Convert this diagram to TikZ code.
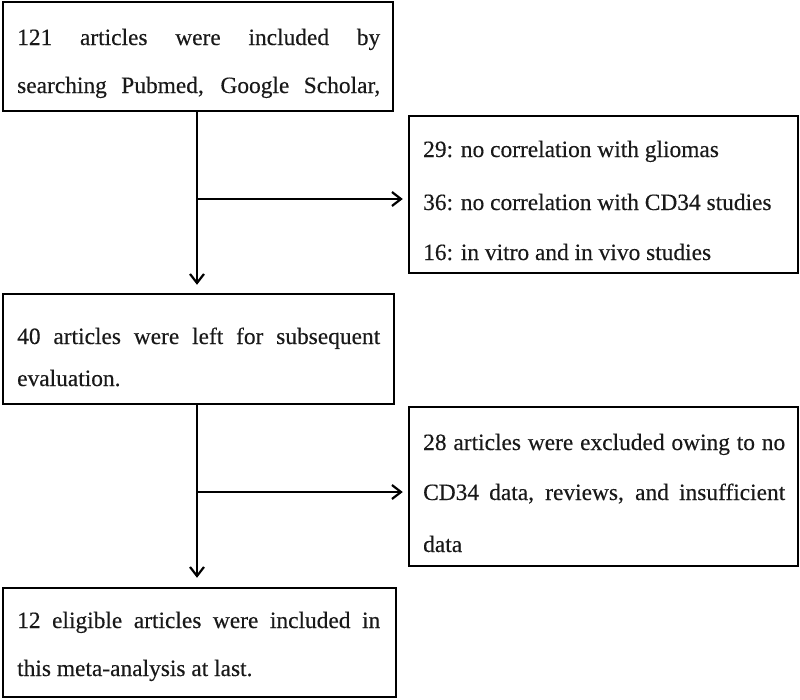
\documentclass[tikz,border=0pt]{standalone}
\usepackage{fontspec}
\setmainfont{Liberation Serif}[FakeBold=0.3]
\usetikzlibrary{arrows.meta}
\newcommand{\jline}[1]{\makebox[363pt][s]{#1}}
\begin{document}
\begin{tikzpicture}[x=1pt,y=-1pt,
  boxnode/.style={draw=black,line width=2.5pt,inner sep=0pt,rectangle},
  txt/.style={anchor=base west,inner sep=0pt,font=\fontsize{23.4}{26}\selectfont,text=black!90},
  arr/.style={line width=2.2pt,-{Straight Barb[length=9pt,width=14pt,line width=2.2pt]}}]
\useasboundingbox (0,0) rectangle (800,699);
\fill[white] (0,0) rectangle (800,699);
% boxes
\node[boxnode,minimum width=390pt,minimum height=109pt] (b1) at (198,56.5) {};
\node[boxnode,minimum width=389pt,minimum height=157pt] (b2) at (603.5,194.5) {};
\node[boxnode,minimum width=391pt,minimum height=110pt] (b3) at (198.5,349) {};
\node[boxnode,minimum width=389pt,minimum height=159pt] (b4) at (603.5,486.5) {};
\node[boxnode,minimum width=393pt,minimum height=109pt] (b5) at (199.5,642.5) {};
% texts
\node[txt] (t1a) at (17,45) {\jline{121 articles were included by}};
\node[txt] (t1b) at (17,93) {\jline{searching Pubmed, Google Scholar,}};
\node[txt] (t2a) at (423,157) {29: no correlation with gliomas};
\node[txt] (t2b) at (423,210) {36: no correlation with CD34 studies};
\node[txt] (t2c) at (423,260) {16: in vitro and in vivo studies};
\node[txt] (t3a) at (17,344) {\jline{40 articles were left for subsequent}};
\node[txt] (t3b) at (17,386) {evaluation.};
\node[txt] (t4a) at (423,450) {\makebox[362pt][s]{28 articles were excluded owing to no}};
\node[txt] (t4b) at (423,500) {\makebox[362pt][s]{CD34 data, reviews, and insufficient}};
\node[txt] (t4c) at (423,552) {data};
\node[txt] (t5a) at (17,628) {\jline{12 eligible articles were included in}};
\node[txt] (t5b) at (17,676) {this meta-analysis at last.};
% connectors
\coordinate (j1) at (197,199);
\coordinate (j2) at (197,492);
\draw[arr,shorten >=8pt] (j1 |- b1.south) -- (j1 |- b3.north);
\draw[arr,shorten >=5pt] (j1) -- (b2.west |- j1);
\draw[arr,shorten >=9pt] (j2 |- b3.south) -- (j2 |- b5.north);
\draw[arr,shorten >=5pt] (j2) -- (b4.west |- j2);
\end{tikzpicture}
\end{document}
